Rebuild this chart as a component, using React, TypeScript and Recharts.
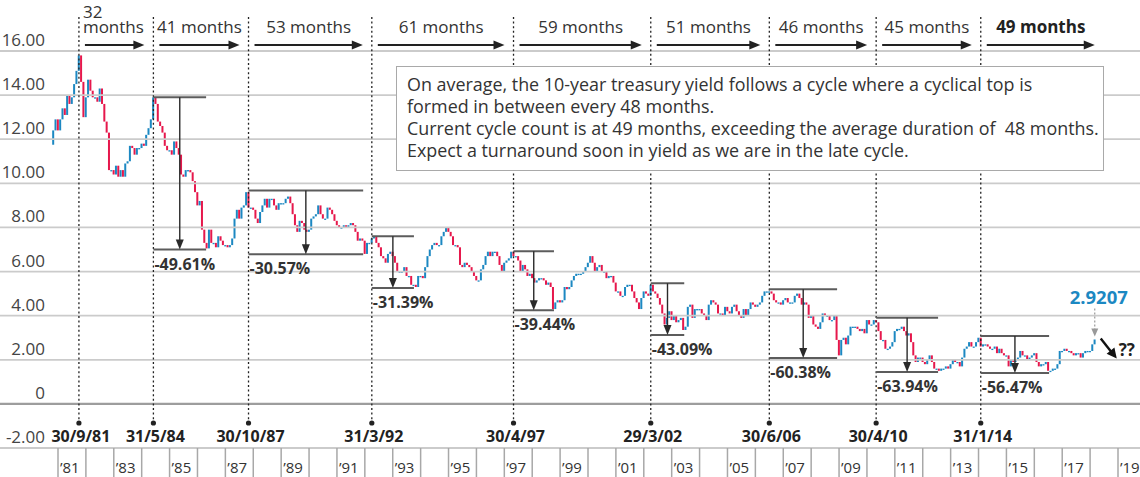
import React from "react";
import { Bar, ComposedChart, ReferenceDot, ReferenceLine, XAxis, YAxis } from "recharts";

const FONT = '"Open Sans", "DejaVu Sans", sans-serif';
const UP = "#1c88c2";
const DOWN = "#e6184c";
const INK = "#333";

// month-end 10-year yield, Oct 1980 .. Feb 2018
const startYear = 1980;
const startMonth = 9;
const firstOpen = 11.75;
const closes = [
  12.4, 12.9, 12.4, // 1980
  12.9, 13.4, 13.1, 14.0, 13.6, 13.9, 14.5, 15.1, 15.8, 14.6, 13.0, 13.9, // 1981
  14.7, 14.2, 13.9, 13.9, 13.7, 14.3, 13.6, 12.8, 12.3, 10.6, 10.6, 10.4, // 1982
  10.8, 10.3, 10.6, 10.3, 10.9, 11.0, 11.7, 11.6, 11.3, 11.6, 11.6, 11.8, // 1983
  11.7, 12.2, 12.5, 12.9, 13.9, 13.6, 12.8, 12.6, 12.3, 11.7, 11.5, 11.5, // 1984
  11.3, 11.9, 11.6, 11.3, 10.4, 10.3, 10.6, 10.6, 10.5, 10.1, 9.6, 9.0, // 1985
  9.2, 7.9, 7.3, 7.05, 7.9, 7.3, 7.3, 7.1, 7.6, 7.4, 7.2, 7.2, // 1986
  7.1, 7.2, 7.5, 8.4, 8.8, 8.4, 8.9, 9.0, 9.6, 8.9, 8.9, 8.8, // 1987
  8.4, 8.2, 8.7, 9.0, 9.3, 8.9, 9.3, 9.3, 9.0, 8.8, 9.1, 9.1, // 1988
  9.1, 9.3, 9.4, 9.1, 8.6, 8.1, 7.8, 8.3, 8.2, 7.9, 7.8, 7.9, // 1989
  8.4, 8.5, 8.6, 9.0, 8.6, 8.4, 8.4, 8.9, 8.8, 8.6, 8.3, 8.1, // 1990
  8.0, 8.0, 8.1, 8.0, 8.1, 8.2, 8.1, 7.8, 7.4, 7.5, 7.4, 6.8, // 1991
  7.3, 7.3, 7.5, 7.6, 7.3, 7.1, 6.7, 6.6, 6.4, 6.8, 6.9, 6.7, // 1992
  6.4, 6.0, 6.0, 6.0, 6.2, 5.8, 5.8, 5.4, 5.4, 5.3, 5.8, 5.8, // 1993
  5.7, 6.2, 6.7, 7.0, 7.2, 7.3, 7.2, 7.2, 7.6, 7.8, 8.0, 7.8, // 1994
  7.6, 7.2, 7.2, 7.1, 6.3, 6.2, 6.4, 6.3, 6.2, 6.0, 5.8, 5.6, // 1995
  5.6, 6.1, 6.3, 6.7, 6.9, 6.7, 6.9, 6.9, 6.7, 6.3, 6.0, 6.4, // 1996
  6.5, 6.6, 6.9, 6.7, 6.7, 6.5, 6.0, 6.3, 6.1, 5.8, 5.9, 5.7, // 1997
  5.5, 5.6, 5.7, 5.7, 5.6, 5.4, 5.5, 5.3, 4.3, 4.6, 4.7, 4.6, // 1998
  4.7, 5.3, 5.2, 5.3, 5.6, 5.8, 5.9, 5.9, 5.9, 6.0, 6.2, 6.4, // 1999
  6.7, 6.4, 6.0, 6.2, 6.3, 6.0, 6.0, 5.7, 5.8, 5.8, 5.5, 5.1, // 2000
  5.1, 4.9, 4.9, 5.3, 5.4, 5.4, 5.1, 4.8, 4.6, 4.3, 4.8, 5.1, // 2001
  5.0, 4.9, 5.4, 5.1, 5.0, 4.8, 4.5, 4.1, 3.6, 3.9, 4.2, 3.8, // 2002
  4.0, 3.7, 3.8, 3.9, 3.35, 3.5, 4.4, 4.5, 3.9, 4.3, 4.3, 4.3, // 2003
  4.1, 4.0, 3.8, 4.5, 4.7, 4.6, 4.5, 4.1, 4.1, 4.0, 4.4, 4.2, // 2004
  4.1, 4.4, 4.5, 4.2, 4.0, 3.9, 4.3, 4.0, 4.3, 4.6, 4.5, 4.4, // 2005
  4.5, 4.6, 4.9, 5.1, 5.1, 5.1, 5.0, 4.7, 4.6, 4.6, 4.5, 4.7, // 2006
  4.8, 4.6, 4.6, 4.6, 4.9, 5.0, 4.8, 4.5, 4.6, 4.5, 3.9, 4.0, // 2007
  3.6, 3.5, 3.4, 3.7, 4.1, 4.0, 4.0, 3.8, 3.8, 4.0, 2.9, 2.2, // 2008
  2.9, 3.0, 2.7, 3.1, 3.5, 3.5, 3.5, 3.4, 3.3, 3.4, 3.2, 3.8, // 2009
  3.6, 3.6, 3.8, 3.7, 3.3, 2.9, 2.9, 2.5, 2.5, 2.6, 2.8, 3.3, // 2010
  3.4, 3.4, 3.5, 3.3, 3.1, 3.2, 2.8, 2.2, 1.9, 2.1, 2.1, 1.9, // 2011
  1.8, 2.0, 2.2, 1.9, 1.6, 1.6, 1.5, 1.6, 1.6, 1.7, 1.6, 1.8, // 2012
  2.0, 1.9, 1.9, 1.7, 2.1, 2.5, 2.6, 2.8, 2.6, 2.6, 2.8, 3.0, // 2013
  2.6, 2.7, 2.7, 2.6, 2.5, 2.5, 2.6, 2.3, 2.5, 2.3, 2.2, 2.2, // 2014
  1.7, 2.0, 1.9, 2.0, 2.1, 2.4, 2.2, 2.2, 2.0, 2.1, 2.2, 2.3, // 2015
  1.9, 1.7, 1.8, 1.8, 1.9, 1.5, 1.5, 1.6, 1.6, 1.8, 2.4, 2.4, // 2016
  2.5, 2.4, 2.4, 2.3, 2.2, 2.3, 2.3, 2.1, 2.3, 2.4, 2.4, 2.4, // 2017
  2.7, 2.92, // 2018
];

const yTicks = [-2, 0, 2, 4, 6, 8, 10, 12, 14, 16];
const yearTicks = [
  1981, 1982, 1983, 1984, 1985, 1986, 1987, 1988, 1989, 1990, 1991, 1992, 1993,
  1994, 1995, 1996, 1997, 1998, 1999, 2000, 2001, 2002, 2003, 2004, 2005, 2006,
  2007, 2008, 2009, 2010, 2011, 2012, 2013, 2014, 2015, 2016, 2017, 2018, 2019,
];

// cyclical tops
const cycleDates = [1981.75, 1984.42, 1987.83, 1992.25, 1997.33, 2002.25, 2006.5, 2010.33, 2014.08];
const cycleDateLabels = ["30/9/81", "31/5/84", "30/10/87", "31/3/92", "30/4/97", "29/3/02", "30/6/06", "30/4/10", "31/1/14"];
const cycleLengths = ["32 months", "41 months", "53 months", "61 months", "59 months", "51 months", "46 months", "45 months", "49 months"];

// drawdowns from each top (second top onwards)
const peakValues = [13.9, 9.68, 7.6, 6.92, 5.47, 5.2, 3.9, 3.08];
const troughDates = [1986.31, 1991.94, 1993.76, 1998.78, 2003.45, 2008.93, 2012.55, 2016.53];
const troughValues = [7.0, 6.79, 5.25, 4.25, 3.12, 2.08, 1.45, 1.4];
const dropLabels = ["-49.61%", "-30.57%", "-31.39%", "-39.44%", "-43.09%", "-60.38%", "-63.94%", "-56.47%"];

const latestLabel = "2.9207";
const noteLines = [
  "On average, the 10-year treasury yield follows a cycle where a cyclical top is",
  "formed in between every 48 months.",
  "Current cycle count is at 49 months, exceeding the average duration of  48 months.",
  "Expect a turnaround soon in yield as we are in the late cycle.",
];

// axis calibration: 1981 at x=58, 2019 at x=1118; 16 at y=51, -2 at y=448
const W = 1140;
const H = 477;
const PX_YEAR = (1118 - 58) / 38;
const X_MIN = 1981 - 58 / PX_YEAR;
const X_MAX = 2019 + (W - 1118) / PX_YEAR;
const PX_UNIT = (448 - 51) / 18;
const Y_MAX = 16 + 51 / PX_UNIT;
const Y_MIN = -2 - (H - 448) / PX_UNIT;

const rows = closes.map((c, i) => {
  const mi = startMonth + i;
  const year = startYear + Math.floor(mi / 12);
  const m = mi % 12;
  const open = i === 0 ? firstOpen : closes[i - 1];
  return {
    t: year + (m + 1) / 12,
    open,
    close: c,
    up: c >= open,
    range: [Math.min(open, c), Math.max(open, c)],
  };
});
const lastRow = rows[rows.length - 1];

function Candle(p: any) {
  const { x, y, width, height, payload } = p;
  if (x == null || y == null) return null;
  const top = Math.min(y, y + height);
  const h = Math.max(Math.abs(height), 1.3);
  return <rect x={x} y={top} width={width} height={h} fill={payload.up ? UP : DOWN} />;
}

function arrowHead(x: number, y: number, dx: number, dy: number, len: number, half: number) {
  const l = Math.hypot(dx, dy);
  const ux = dx / l;
  const uy = dy / l;
  const bx = x - ux * len;
  const by = y - uy * len;
  return `${x},${y} ${bx - uy * half},${by + ux * half} ${bx + uy * half},${by - ux * half}`;
}

export default function App() {
  return (
    <div style={{ position: "absolute", left: 0, top: 0, width: W, height: H, background: "#fff", fontFamily: FONT }}>
      <ComposedChart width={W} height={H} data={rows} margin={{ top: 0, right: 0, bottom: 0, left: 0 }}>
        <XAxis dataKey="t" type="number" domain={[X_MIN, X_MAX]} allowDataOverflow hide />
        <YAxis type="number" domain={[Y_MIN, Y_MAX]} allowDataOverflow hide />

        {yTicks.map((v) => (
          <ReferenceLine
            key={`g${v}`}
            y={v}
            stroke={v === 0 ? "#9d9d9d" : "#cbcbcb"}
            strokeWidth={v === 0 ? 2.4 : 1.8}
            ifOverflow="visible"
          />
        ))}
        {yTicks.map((v) => (
          <ReferenceDot
            key={`yl${v}`}
            x={X_MIN}
            y={v}
            r={0}
            ifOverflow="visible"
            shape={(p: any) => (
              <text x={p.cx + 45} y={p.cy - 5} textAnchor="end" fontSize={17} fill="#444" fontFamily={FONT}>
                {v === 0 ? "0" : v.toFixed(2)}
              </text>
            )}
          />
        ))}

        {yearTicks.map((yr) => (
          <ReferenceLine
            key={`yt${yr}`}
            segment={[{ x: yr, y: -2 }, { x: yr, y: Y_MIN }]}
            stroke="#a8a8a8"
            strokeWidth={1.5}
            ifOverflow="visible"
          />
        ))}
        {yearTicks
          .filter((yr) => yr % 2 === 1)
          .map((yr) => (
            <ReferenceDot
              key={`yx${yr}`}
              x={yr}
              y={Y_MIN}
              r={0}
              ifOverflow="visible"
              shape={(p: any) => (
                <text x={p.cx + 2} y={p.cy - 4} fontSize={15} fill={INK} fontFamily={FONT}>
                  {"\u2019" + String(yr).slice(2)}
                </text>
              )}
            />
          ))}

        {cycleDates.map((d, i) => (
          <ReferenceLine
            key={`cd${i}`}
            x={d}
            ifOverflow="visible"
            shape={(p: any) => {
              const top = Math.min(p.y1, p.y2);
              return (
                <g>
                  <line x1={p.x1} x2={p.x1} y1={top + 17} y2={top + 423} stroke="#222" strokeWidth={1.3} strokeDasharray="2 2.6" />
                  <circle cx={p.x1} cy={top + 423} r={2.6} fill="#222" />
                  <text x={p.x1 + 2} y={top + 442} textAnchor="middle" fontSize={16} fontWeight={700} fill="#222" fontFamily={FONT}>
                    {cycleDateLabels[i]}
                  </text>
                </g>
              );
            }}
          />
        ))}

        {cycleDates.map((d, i) => (
          <ReferenceLine
            key={`cl${i}`}
            segment={[
              { x: d, y: Y_MAX },
              { x: i < cycleDates.length - 1 ? cycleDates[i + 1] : lastRow.t, y: Y_MAX },
            ]}
            ifOverflow="visible"
            shape={(p: any) => {
              const a = Math.min(p.x1, p.x2) + 6;
              const b = Math.max(p.x1, p.x2) - (i === cycleDates.length - 1 ? 0 : 9);
              const y = Math.min(p.y1, p.y2) + 45;
              const last = i === cycleDates.length - 1;
              const [num, word] = cycleLengths[i].split(" ");
              return (
                <g>
                  <line x1={a} x2={b - 8} y1={y} y2={y} stroke="#222" strokeWidth={2} />
                  <polygon points={arrowHead(b, y, 1, 0, 11, 4.5)} fill="#222" />
                  {i === 0 ? (
                    <text x={a - 2} y={y - 27} fontSize={17} fill={INK} fontFamily={FONT}>
                      <tspan x={a - 2}>{num}</tspan>
                      <tspan x={a - 2} dy={15}>{word}</tspan>
                    </text>
                  ) : (
                    <text
                      x={(a + b) / 2}
                      y={y - 12}
                      textAnchor="middle"
                      fontSize={17}
                      fontWeight={last ? 700 : 400}
                      fill={last ? "#222" : INK}
                      fontFamily={FONT}
                    >
                      {cycleLengths[i]}
                    </text>
                  )}
                </g>
              );
            }}
          />
        ))}

        <Bar dataKey="range" barSize={2} isAnimationActive={false} shape={Candle} />

        {peakValues.map((pv, i) => {
          const pd = cycleDates[i + 1];
          const td = troughDates[i];
          const tv = troughValues[i];
          const mid = (pd + td) / 2;
          return (
            <React.Fragment key={`br${i}`}>
              <ReferenceLine segment={[{ x: pd, y: pv }, { x: td, y: pv }]} stroke="#5c5c5c" strokeWidth={2} ifOverflow="visible" />
              <ReferenceLine segment={[{ x: pd, y: tv }, { x: td, y: tv }]} stroke="#5c5c5c" strokeWidth={2} ifOverflow="visible" />
              <ReferenceLine
                segment={[{ x: mid, y: pv }, { x: mid, y: tv }]}
                ifOverflow="visible"
                shape={(p: any) => {
                  const y0 = Math.min(p.y1, p.y2);
                  const y1 = Math.max(p.y1, p.y2);
                  return (
                    <g>
                      <line x1={p.x1} x2={p.x1} y1={y0} y2={y1 - 8} stroke="#2a2a2a" strokeWidth={1.4} />
                      <polygon points={arrowHead(p.x1, y1, 0, 1, 10, 4)} fill="#2a2a2a" />
                    </g>
                  );
                }}
              />
              <ReferenceDot
                x={pd}
                y={tv}
                r={0}
                ifOverflow="visible"
                shape={(p: any) => (
                  <text x={p.cx + 1} y={p.cy + 20} fontSize={16} fontWeight={700} fill={INK} fontFamily={FONT}>
                    {dropLabels[i]}
                  </text>
                )}
              />
            </React.Fragment>
          );
        })}

        <ReferenceDot
          x={lastRow.t}
          y={lastRow.close}
          r={0}
          ifOverflow="visible"
          shape={(p: any) => (
            <g>
              <text x={p.cx + 4} y={p.cy - 35} textAnchor="middle" fontSize={18.5} fontWeight={700} fill={UP} fontFamily={FONT}>
                {latestLabel}
              </text>
              <line x1={p.cx} x2={p.cx} y1={p.cy - 31} y2={p.cy - 10} stroke="#999" strokeWidth={1.2} strokeDasharray="2 2" />
              <polygon points={arrowHead(p.cx, p.cy - 3, 0, 1, 8, 3.5)} fill="#999" />
              <line x1={p.cx + 6} y1={p.cy - 1} x2={p.cx + 17} y2={p.cy + 13} stroke="#111" strokeWidth={2.4} />
              <polygon points={arrowHead(p.cx + 22, p.cy + 19, 16, 20, 10, 5)} fill="#111" />
              <text x={p.cx + 24} y={p.cy + 17} fontSize={17} fontWeight={700} fill="#222" fontFamily={FONT}>
                ??
              </text>
            </g>
          )}
        />
      </ComposedChart>

      <div
        style={{
          position: "absolute",
          left: 396,
          top: 66,
          width: 708,
          height: 105,
          boxSizing: "border-box",
          border: "1.6px solid #a9a9a9",
          background: "#fff",
          padding: "6px 0 0 10px",
          fontSize: 17.9,
          lineHeight: "22px",
          color: INK,
          whiteSpace: "pre",
        }}
      >
        {noteLines.map((l, i) => (
          <div key={i}>{l}</div>
        ))}
      </div>
    </div>
  );
}
